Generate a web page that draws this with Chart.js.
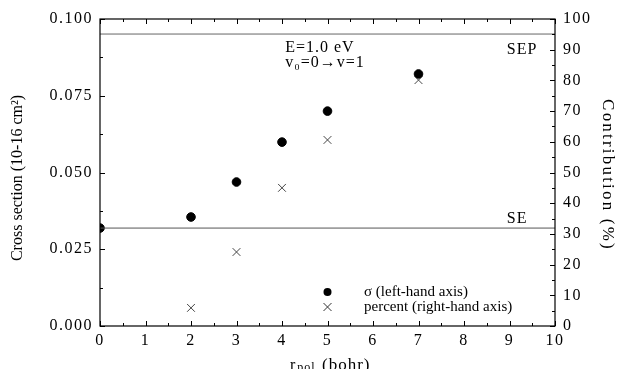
<!DOCTYPE html>
<html><head><meta charset="utf-8">
<script src="https://cdn.jsdelivr.net/npm/chart.js@4"></script>
<style>html,body{margin:0;padding:0;background:#fff}#wrap{width:623px;height:369px}</style>
</head><body><div id="wrap"><canvas id="c" width="623" height="369"></canvas></div>
<script>
const rpol = [0, 2, 3, 4, 5, 7];
const sigma = [0.0319, 0.0355, 0.0469, 0.0599, 0.0700, 0.0821];
const rpolPct = [2, 3, 4, 5, 7];
const percent = [5.9, 24.1, 45.0, 60.6, 80.1];
const sepLevel = 0.0951;
const seLevel = 0.0319;
const xTicks = [0,1,2,3,4,5,6,7,8,9,10];
const leftTicks = [0, 0.025, 0.05, 0.075, 0.1];
const rightTicks = [0,10,20,30,40,50,60,70,80,90,100];

const FONT = '"Liberation Serif", "Times New Roman", serif';

const spacing = {
  id: 'spacing',
  beforeDraw(chart) { chart.ctx.letterSpacing = '1.5px'; }
};

const deco = {
  id: 'deco',
  afterDatasetsDraw(chart) {
    const ctx = chart.ctx, a = chart.chartArea;
    const x = chart.scales.x, yl = chart.scales.y, yr = chart.scales.y2;
    ctx.save();
    ctx.letterSpacing = '0px';
    // frame
    ctx.strokeStyle = '#000'; ctx.lineWidth = 1.2;
    ctx.strokeRect(a.left, a.top, a.right - a.left, a.bottom - a.top);
    ctx.lineWidth = 1;
    // x ticks (bottom and top, inward)
    for (let v = 0; v <= 10; v += 0.5) {
      const px = Math.round(x.getPixelForValue(v)) + 0.5;
      const len = (v % 1 === 0) ? 5 : 3;
      ctx.beginPath();
      ctx.moveTo(px, a.bottom); ctx.lineTo(px, a.bottom - len);
      ctx.moveTo(px, a.top); ctx.lineTo(px, a.top + len);
      ctx.stroke();
    }
    // left ticks
    for (let i = 0; i <= 8; i++) {
      const v = i * 0.0125;
      const py = Math.round(yl.getPixelForValue(v)) + 0.5;
      const len = (i % 2 === 0) ? 5 : 3;
      ctx.beginPath(); ctx.moveTo(a.left, py); ctx.lineTo(a.left + len, py); ctx.stroke();
    }
    // right ticks
    for (let i = 0; i <= 20; i++) {
      const v = i * 5;
      const py = Math.round(yr.getPixelForValue(v)) + 0.5;
      const len = (i % 2 === 0) ? 5 : 3;
      ctx.beginPath(); ctx.moveTo(a.right, py); ctx.lineTo(a.right - len, py); ctx.stroke();
    }
    // annotations
    ctx.fillStyle = '#000';
    ctx.font = '16px ' + FONT;
    ctx.letterSpacing = '1px';
    ctx.textBaseline = 'alphabetic';
    ctx.textAlign = 'left';
    ctx.fillText('E=1.0 eV', x.getPixelForValue(4.07), yl.getPixelForValue(0.0892));
    ctx.fillText('v\u2080=0\u2192v=1', x.getPixelForValue(4.07), yl.getPixelForValue(0.0844));
    ctx.fillText('SEP', x.getPixelForValue(8.94), yl.getPixelForValue(0.0886));
    ctx.fillText('SE', x.getPixelForValue(8.94), yl.getPixelForValue(0.0337));
    // legend
    ctx.letterSpacing = '0px';
    ctx.font = '15px ' + FONT;
    const lx = x.getPixelForValue(5), ly1 = 292, ly2 = 307;
    ctx.beginPath(); ctx.arc(lx, ly1, 4, 0, Math.PI * 2); ctx.fill();
    ctx.strokeStyle = '#333'; ctx.lineWidth = 1;
    ctx.beginPath(); ctx.moveTo(lx - 4, ly2 - 4); ctx.lineTo(lx + 4, ly2 + 4);
    ctx.moveTo(lx + 4, ly2 - 4); ctx.lineTo(lx - 4, ly2 + 4); ctx.stroke();
    ctx.textBaseline = 'middle';
    ctx.fillText('\u03c3 (left-hand axis)', 364, ly1);
    ctx.fillText('percent (right-hand axis)', 364, ly2);
    // axis titles
    ctx.textAlign = 'center';
    ctx.font = '16px ' + FONT;
    ctx.letterSpacing = '0px';
    ctx.save();
    ctx.translate(18, 178); ctx.rotate(-Math.PI / 2);
    ctx.fillText('Cross section (10-16 cm\u00b2)', 0, 0);
    ctx.restore();
    ctx.font = '17px ' + FONT;
    ctx.letterSpacing = '2.2px';
    ctx.save();
    ctx.translate(607, 175); ctx.rotate(Math.PI / 2);
    ctx.fillText('Contribution (%)', 0, 0);
    ctx.restore();
    // x title with subscript
    ctx.textAlign = 'left'; ctx.textBaseline = 'alphabetic';
    ctx.letterSpacing = '1px';
    const by = 370;
    let cx = 290;
    ctx.font = '16px ' + FONT; ctx.fillText('r', cx, by); cx += ctx.measureText('r').width + 1;
    ctx.font = '12px ' + FONT; ctx.fillText('pol', cx, by + 1);
    ctx.font = '17px ' + FONT; ctx.fillText('(bohr)', 322, by);
    ctx.restore();
  }
};

new Chart(document.getElementById('c'), {
  type: 'scatter',
  data: {
    datasets: [
      { label: 'SEP', type: 'line', data: [{x: 0, y: sepLevel}, {x: 10, y: sepLevel}], borderColor: '#666', borderWidth: 1, pointRadius: 0, yAxisID: 'y' },
      { label: 'SE', type: 'line', data: [{x: 0, y: seLevel}, {x: 10, y: seLevel}], borderColor: '#555', borderWidth: 1, pointRadius: 0, yAxisID: 'y' },
      { label: 'sigma', data: rpol.map((r, i) => ({x: r, y: sigma[i]})), pointStyle: 'circle', pointRadius: 4.3, backgroundColor: '#000', borderColor: '#000', yAxisID: 'y' },
      { label: 'percent', data: rpolPct.map((r, i) => ({x: r, y: percent[i]})), pointStyle: 'cross', rotation: 45, pointRadius: 5.5, borderColor: '#444', borderWidth: 1, yAxisID: 'y2' }
    ]
  },
  options: {
    responsive: false, animation: false,
    layout: { padding: { top: 19, left: 0, right: 0, bottom: 0 } },
    plugins: { legend: { display: false }, tooltip: { enabled: false } },
    scales: {
      x: {
        type: 'linear', min: 0, max: 10,
        afterBuildTicks: s => { s.ticks = xTicks.map(v => ({value: v})); },
        afterFit: s => { s.height = 43; },
        grid: { display: false, drawTicks: false }, border: { display: false },
        ticks: { color: '#000', font: { family: FONT, size: 16 }, padding: 5, maxRotation: 0 }
      },
      y: {
        position: 'left', min: 0, max: 0.1,
        afterBuildTicks: s => { s.ticks = leftTicks.map(v => ({value: v})); },
        afterFit: s => { s.width = 100; },
        grid: { display: false, drawTicks: false }, border: { display: false },
        ticks: { color: '#000', font: { family: FONT, size: 16 }, padding: 7, callback: v => v.toFixed(3) }
      },
      y2: {
        position: 'right', min: 0, max: 100,
        afterBuildTicks: s => { s.ticks = rightTicks.map(v => ({value: v})); },
        afterFit: s => { s.width = 68; },
        grid: { display: false, drawTicks: false }, border: { display: false },
        ticks: { color: '#000', font: { family: FONT, size: 16 }, padding: 8 }
      }
    }
  },
  plugins: [spacing, deco]
});
</script></body></html>
